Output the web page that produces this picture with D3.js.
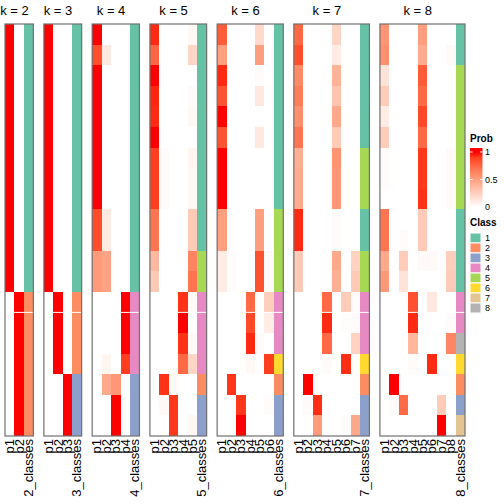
<!DOCTYPE html>
<html><head><meta charset="utf-8">
<script src="https://cdn.jsdelivr.net/npm/d3@7"></script>
<style>html,body{margin:0;padding:0;background:#fff;} svg{display:block;font-family:"Liberation Sans",Arial,Helvetica,sans-serif;}</style>
</head><body><svg id="chart" width="504" height="504"></svg>
<script>
const kValues = [2, 3, 4, 5, 6, 7, 8];

const probK2 = [
 [1,0],[1,0],[1,0],[1,0],[1,0],[1,0],[1,0],[1,0],[1,0],[1,0],
 [1,0],[1,0],[1,0],[0,1],[0,1],[0,1],[0,1],[0,1],[0,1],[0,1]];
const classK2 = [1,1,1,1,1,1,1,1,1,1,1,1,1,2,2,2,2,2,2,2];

const probK3 = [
 [1,0,0],[1,0,0],[1,0,0],[1,0,0],[1,0,0],[1,0,0],[1,0,0],[1,0,0],[1,0,0],[1,0,0],
 [1,0,0],[1,0,0],[1,0,0],[0,1,0],[0,1,0],[0,1,0],[0,1,0],[0,0,1],[0,0,1],[0,0,1]];
const classK3 = [1,1,1,1,1,1,1,1,1,1,1,1,1,2,2,2,2,3,3,3];

const probK4 = [
 [1,0,0,0],[0.85,0.12,0,0],[1,0,0,0],[1,0,0,0],[1,0,0,0],[1,0,0,0],[1,0,0,0],[1,0,0,0],[1,0,0,0],[0.86,0.11,0,0],
 [0.86,0.11,0,0],[0.52,0.48,0,0],[0.52,0.48,0,0],[0,0,0,1],[0,0,0,1],[0,0,0,1],[0,0.05,0,0.9],[0,0.45,0.54,0],[0,0,1,0],[0,0,1,0]];
const classK4 = [1,1,1,1,1,1,1,1,1,1,1,1,1,4,4,4,4,3,3,3];

const probK5 = [
 [0.95,0,0,0,0.04],[0.76,0,0,0,0.22],[1,0,0,0,0],[0.96,0,0,0,0.02],[0.95,0,0,0,0.04],
 [1,0,0,0,0],[0.9,0.02,0,0,0.05],[0.9,0.02,0,0,0.04],[0.9,0.02,0,0,0.04],[0.7,0,0,0,0.28],
 [0.7,0,0,0,0.28],[0.37,0,0,0,0.63],[0.28,0,0,0,0.7],[0,0,0,0.93,0.03],[0,0,0,1,0],
 [0,0,0,0.93,0.03],[0,0,0,0.75,0.22],[0,0.93,0.04,0,0],[0,0.04,0.92,0,0],[0,0,0.92,0,0.04]];
const classK5 = [1,1,1,1,1,1,1,1,1,1,1,5,5,4,4,4,4,2,3,3];

const probK6 = [
 [0.8,0,0,0,0.2,0],[0.5,0,0,0,0.5,0],[0.95,0,0,0,0.02,0],[0.83,0,0,0,0.12,0],[1,0,0,0,0,0],
 [0.83,0,0,0,0.12,0],[1,0,0,0,0,0],[1,0,0,0,0,0],[1,0,0,0,0,0],[0.5,0,0,0,0.5,0],
 [0.5,0,0,0,0.5,0],[0.1,0.02,0,0,0.84,0.03],[0.1,0.02,0,0,0.84,0.03],[0,0,0,0.75,0,0.26],[0,0,0,0.87,0,0.1],
 [0,0,0,0.95,0.02,0],[0,0,0,0.04,0,0.9],[0,0.93,0,0,0,0],[0,0,0.92,0,0,0.02],[0,0,1,0,0,0]];
const classK6 = [1,1,1,1,1,1,1,1,1,5,5,5,5,4,4,4,6,2,3,3];

const probK7 = [
 [0.75,0,0,0,0.22,0,0],[0.85,0,0,0,0.1,0,0],[0.6,0,0,0,0.4,0,0],[0.66,0,0,0,0.31,0,0],[0.58,0,0,0,0.45,0,0],
 [0.7,0,0,0,0.28,0,0],[0.42,0,0,0,0.56,0,0],[0.44,0,0,0,0.54,0,0],[0.44,0,0,0,0.54,0,0],[0.95,0,0,0,0.02,0,0],
 [0.95,0,0,0,0.02,0,0],[0.28,0,0,0,0.45,0,0.24],[0.28,0,0,0,0.42,0,0.28],[0,0,0,0.75,0,0.27,0.02],[0,0,0,0.95,0,0.01,0.02],
 [0,0,0,0.75,0,0,0.24],[0,0,0,0.02,0,0.94,0],[0,1,0,0,0,0,0],[0,0.02,0.94,0,0,0,0],[0,0,0.52,0,0,0.02,0.45]];
const classK7 = [1,1,1,1,1,1,5,5,5,1,1,5,5,4,4,4,6,2,3,3];

const probK8 = [
 [0.55,0,0,0,0.5,0,0,0],[0.58,0,0,0,0.44,0,0,0.03],[0.15,0,0,0,0.8,0,0,0],[0.27,0,0,0,0.74,0,0,0],[0.1,0,0,0,0.87,0,0,0],
 [0.27,0,0,0,0.74,0,0,0],[0.02,0,0,0,0.92,0,0,0.03],[0.02,0,0,0,0.92,0,0,0.03],[0,0,0,0,0.93,0,0,0.03],[0.7,0,0,0,0.28,0,0,0],
 [0.7,0,0.02,0,0.28,0,0,0],[0.45,0,0.27,0,0.03,0.03,0,0.26],[0.53,0,0.15,0,0,0,0,0.27],[0,0,0,0.84,0,0.12,0,0],[0,0,0,0.95,0,0,0,0.02],
 [0,0,0,0.38,0,0,0,0.62],[0,0,0,0.02,0,0.95,0,0],[0,1,0,0,0,0,0,0],[0,0.02,0.75,0,0,0,0.27,0],[0,0,0,0,0,0,1,0]];
const classK8 = [1,1,5,5,5,5,5,5,5,1,1,1,1,4,4,8,6,2,3,7];

const classColors = ["#66C2A5","#FC8D62","#8DA0CB","#E78AC3","#A6D854","#FFD92F","#E5C494","#B3B3B3"];
const classLabels = ["1","2","3","4","5","6","7","8"];
const probTicks = [0, 0.5, 1];

const probs = [probK2, probK3, probK4, probK5, probK6, probK7, probK8];
const classes = [classK2, classK3, classK4, classK5, classK6, classK7, classK8];

const svg = d3.select("#chart");
const mLeft = 5, mRight = 465, mTop = 24, mBottom = 436, panelGap = 10.5;
const totalCols = d3.sum(kValues, k => k + 1);
const colW = (mRight - mLeft - panelGap * (kValues.length - 1)) / totalCols;

const color = d3.scaleLinear().domain([0, 1]).range(["#ffffff", "#ff0000"]).interpolate(d3.interpolateLab).clamp(true);
const classColor = d3.scaleOrdinal().domain(d3.range(1, 9)).range(classColors);
const y = d3.scaleBand().domain(d3.range(20)).range([mTop, mBottom]).paddingInner(0).paddingOuter(0);

let x0 = mLeft;
kValues.forEach((k, pi) => {
  const cols = d3.range(1, k + 1).map(i => "p" + i).concat([k + "_classes"]);
  const x = d3.scaleBand().domain(cols).range([x0, x0 + cols.length * colW]).padding(0);
  const g = svg.append("g");
  const data = probs[pi], cls = classes[pi];
  data.forEach((row, ri) => {
    row.forEach((v, ci) => {
      g.append("rect").attr("x", x(cols[ci])).attr("y", y(ri))
        .attr("width", x.bandwidth()).attr("height", y.bandwidth())
        .attr("fill", color(v)).attr("shape-rendering", "crispEdges");
    });
    g.append("rect").attr("x", x(cols[k])).attr("y", y(ri))
      .attr("width", x.bandwidth()).attr("height", y.bandwidth())
      .attr("fill", classColor(cls[ri])).attr("shape-rendering", "crispEdges");
  });
  g.append("line").attr("x1", x(cols[0])).attr("x2", x(cols[k]) + x.bandwidth())
    .attr("y1", y(14)).attr("y2", y(14)).attr("stroke", "#fff").attr("stroke-width", 1);
  g.append("rect").attr("x", x0).attr("y", mTop).attr("width", cols.length * colW).attr("height", mBottom - mTop)
    .attr("fill", "none").attr("stroke", "#707070").attr("stroke-width", 1.2);
  const pc = (x(cols[0]) + x(cols[k - 1]) + x.bandwidth()) / 2;
  g.append("text").attr("x", pc).attr("y", 15).attr("text-anchor", "middle")
    .attr("font-size", 13).attr("fill", "#000").text("k = " + k);
  cols.forEach(c => {
    g.append("text").attr("transform", `translate(${x(c) + x.bandwidth() / 2},439) rotate(-90)`)
      .attr("text-anchor", "end").attr("dominant-baseline", "central")
      .attr("font-size", 13).attr("fill", "#000").text(c);
  });
  x0 += cols.length * colW + panelGap;
});

// Prob legend
const lg = svg.append("g");
lg.append("text").attr("x", 470).attr("y", 142).attr("font-size", 10).attr("font-weight", "bold").text("Prob");
const barTop = 148, barBot = 211, barX = 470, barW = 12.5;
const ly = d3.scaleLinear().domain([0, 1]).range([207, 152]);
const grad = svg.append("defs").append("linearGradient").attr("id", "pg")
  .attr("x1", 0).attr("y1", 0).attr("x2", 0).attr("y2", 1);
d3.range(0, 11).map(i => 1 - i / 10).forEach(t => {
  grad.append("stop").attr("offset", (ly(t) - barTop) / (barBot - barTop)).attr("stop-color", color(t));
});
lg.append("rect").attr("x", barX).attr("y", barTop).attr("width", barW).attr("height", barBot - barTop).attr("fill", "url(#pg)");
probTicks.forEach(t => {
  lg.append("line").attr("x1", barX).attr("x2", barX + 2.5).attr("y1", ly(t)).attr("y2", ly(t)).attr("stroke", "#fff");
  lg.append("line").attr("x1", barX + barW - 2.5).attr("x2", barX + barW).attr("y1", ly(t)).attr("y2", ly(t)).attr("stroke", "#fff");
  lg.append("text").attr("x", 485).attr("y", ly(t)).attr("dominant-baseline", "central").attr("font-size", 9).text(t);
});

// Class legend
lg.append("text").attr("x", 470).attr("y", 226).attr("font-size", 10).attr("font-weight", "bold").text("Class");
const cy = d3.scaleBand().domain(classLabels).range([233, 313]);
classLabels.forEach((c, i) => {
  lg.append("rect").attr("x", 470).attr("y", cy(c)).attr("width", 11).attr("height", cy.bandwidth())
    .attr("fill", classColors[i]).attr("stroke", "#fff").attr("stroke-width", 1);
  lg.append("text").attr("x", 485).attr("y", cy(c) + cy.bandwidth() / 2).attr("dominant-baseline", "central")
    .attr("font-size", 9).text(c);
});
</script></body></html>
